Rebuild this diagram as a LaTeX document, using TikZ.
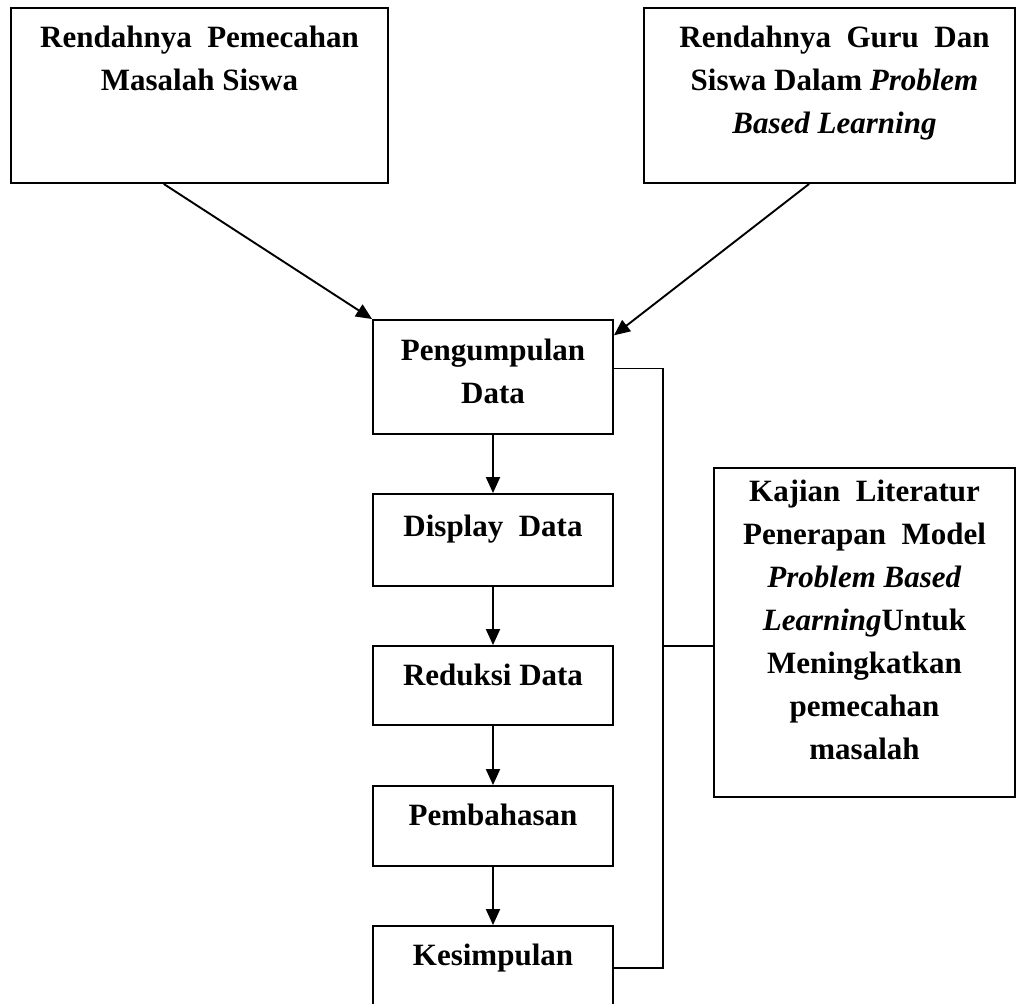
\documentclass[tikz,border=0pt]{standalone}
\usepackage{fontspec}
\setmainfont{Liberation Serif}
\usetikzlibrary{positioning,arrows.meta}

\begin{document}
\begin{tikzpicture}[x=1pt, y=-1pt, line width=1.9pt,
	box/.style = {draw, rectangle, inner sep=0pt},
	txt/.style = {align=center, inner sep=0pt, anchor=north, font=\bfseries\fontsize{31}{43}\selectfont},
	arr/.style = {-{Triangle[length=16pt, width=14pt]}}]
	\useasboundingbox (0,0) rectangle (1019,1003);
	\clip (0,0) rectangle (1019,1003);
	% top boxes
	\node[box, minimum width=377, minimum height=175] (masalah) at (199.5,95.5) {};
	\node[box, minimum width=371, minimum height=175] (guru) at (829.5,95.5) {};
	\node[txt, below=18pt of masalah.north] {Rendahnya\ \ Pemecahan\\Masalah Siswa};
	\node[txt, below=18pt of guru.north, xshift=5pt] {Rendahnya\ \ Guru\ \ Dan\\Siswa Dalam \textit{Problem}\\\textit{Based Learning}};
	% middle column
	\node[box, minimum width=240, minimum height=114] (kumpul) at (493,377) {};
	\node[box, minimum width=240, minimum height=92] (display) at (493,540) {};
	\node[box, minimum width=240, minimum height=79] (reduksi) at (493,685.5) {};
	\node[box, minimum width=240, minimum height=80] (bahas) at (493,826) {};
	\node[box, minimum width=240, minimum height=84] (simpul) at (493,968) {};
	\node[txt, below=19pt of kumpul.north] {Pengumpulan\\Data};
	\node[txt, below=21pt of display.north] {Display\ \ Data};
	\node[txt, below=18pt of reduksi.north] {Reduksi Data};
	\node[txt, below=18pt of bahas.north] {Pembahasan};
	\node[txt, below=18pt of simpul.north] {Kesimpulan};
	% literature box
	\node[box, minimum width=301, minimum height=329] (kajian) at (864.5,632.5) {};
	\node[txt, below=12pt of kajian.north] {Kajian\ \ Literatur\\Penerapan\ \ Model\\\textit{Problem Based}\\\textit{Learning}Untuk\\Meningkatkan\\pemecahan\\masalah};
	% arrows
	\draw[arr] (masalah.248.5) -- (kumpul.north west);
	\draw[arr] (guru.257.3) -- (kumpul.19.4);
	\draw[arr] (kumpul) -- (display);
	\draw[arr] (display) -- (reduksi);
	\draw[arr] (reduksi) -- (bahas);
	\draw[arr] (bahas) -- (simpul);
	% side connector
	\coordinate (bus) at (663,646);
	\draw (kumpul.4.3) -| (bus) |- (simpul.east);
	\draw (bus) -- (kajian.west |- bus);
\end{tikzpicture}
\end{document}
